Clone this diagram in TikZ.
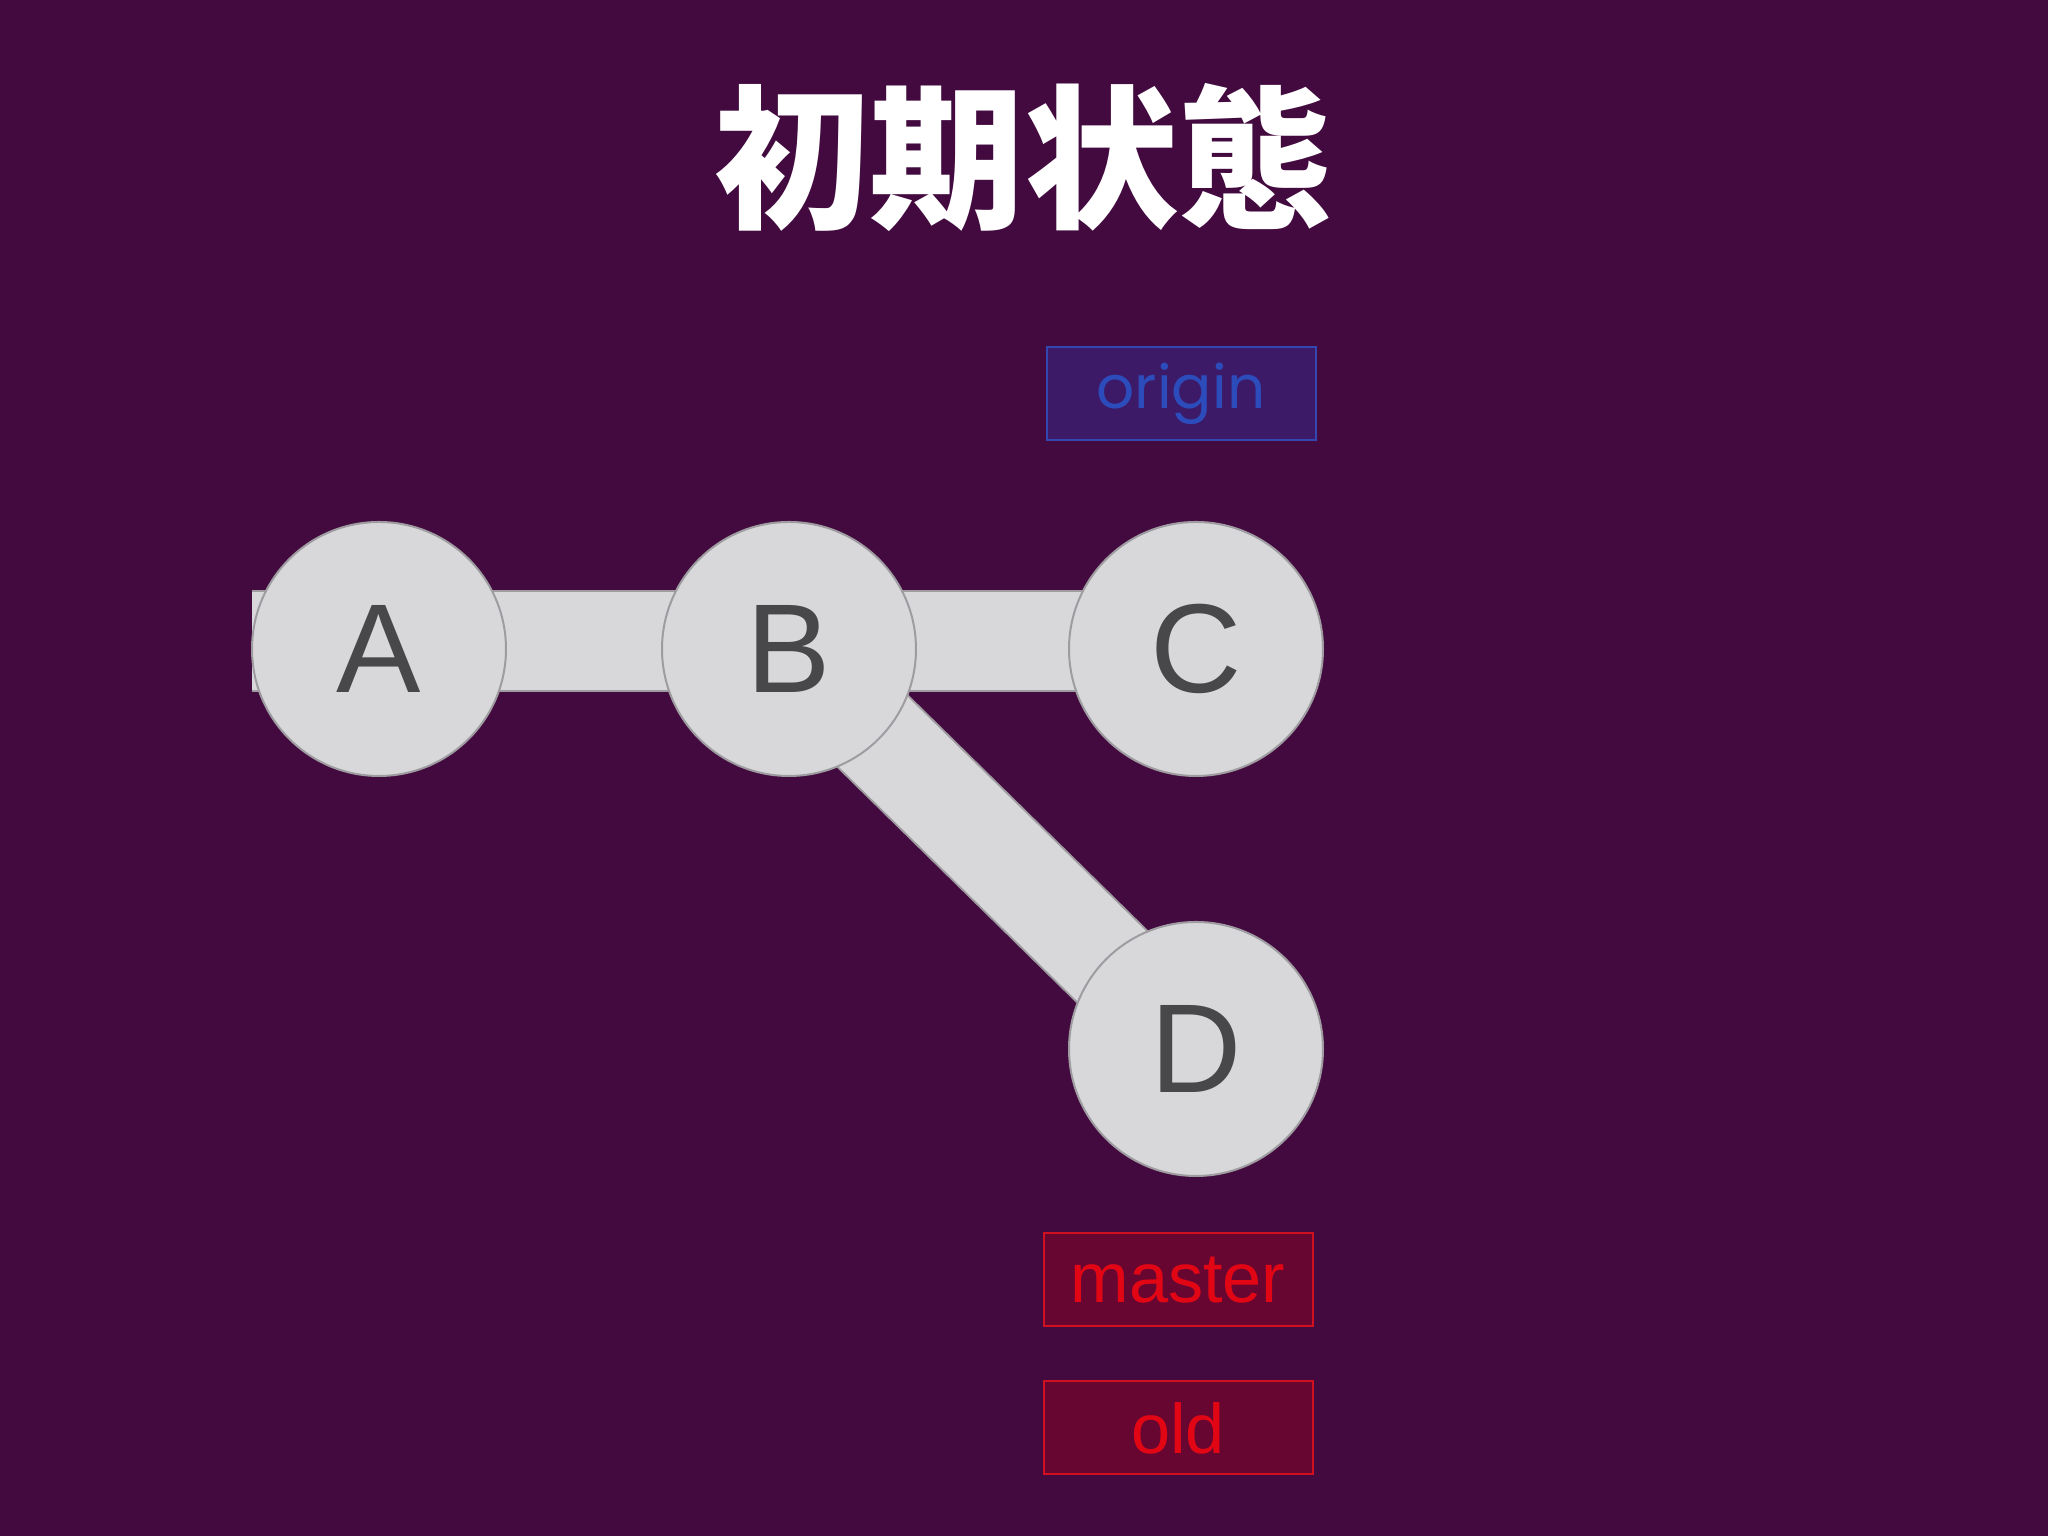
\documentclass[tikz,border=0pt]{standalone}
\usepackage{fontspec}
\setmainfont{Liberation Sans}
\newfontfamily\cjk{Noto Sans CJK JP}
\newfontfamily\geo{Poppins}
\usepackage{tikz}
\usepackage{xcolor}
\definecolor{bgpurple}{RGB}{66,10,62}
\definecolor{commitfill}{RGB}{216,215,218}
\definecolor{commitline}{RGB}{158,156,160}
\definecolor{committext}{RGB}{72,72,74}
\definecolor{originfill}{RGB}{60,26,104}
\definecolor{originline}{RGB}{52,70,176}
\definecolor{origintext}{RGB}{44,76,188}
\definecolor{branchfill}{RGB}{104,6,50}
\definecolor{branchline}{RGB}{208,16,32}
\definecolor{branchtext}{RGB}{226,6,20}

\begin{document}
\begin{tikzpicture}[
  commit/.style={circle,fill=commitfill,draw=commitline,line width=0.02cm,
    minimum size=2.54cm,inner sep=0pt,text=committext,font=\fontsize{36}{36}\selectfont},
  bar/.style={draw=commitline,line width=0.02cm,double=commitfill,double distance=0.98cm},
  remote/.style={rectangle,fill=originfill,draw=originline,line width=0.02cm,
    minimum width=2.69cm,minimum height=0.93cm,inner sep=0pt,text=origintext,
    font=\geo\fontsize{17}{17}\selectfont},
  branch/.style={rectangle,fill=branchfill,draw=branchline,line width=0.02cm,
    minimum width=2.69cm,minimum height=0.93cm,inner sep=0pt,text=branchtext,
    font=\fontsize{20}{20}\selectfont}]
\fill[bgpurple] (0,0) rectangle (20.48,15.36);
\useasboundingbox (0,0) rectangle (20.48,15.36);
\node (title) at (10.24,13.78) {\cjk\bfseries\fontsize{44}{44}\selectfont\textcolor{white}{初期状態}};
\coordinate (start) at (2.52,8.95);
\coordinate (cend) at (11.96,8.95);
\coordinate (bpos) at (7.89,8.87);
\coordinate (cpos) at (11.96,8.87);
\coordinate (dpos) at (11.96,4.87);
\draw[bar] (bpos) -- (dpos);
\draw[bar] (start) -- (cend);
\node[commit] (A) at (3.79,8.87) {A};
\node[commit] (B) at (bpos) {B};
\node[commit] (C) at (cpos) {C};
\node[commit] (D) at (dpos) {D};
\node[remote] (origin) at (11.81,11.42) {origin};
\node[branch] (master) at (11.78,2.56) {master};
\node[branch] (old) at (11.78,1.08) {old};
\end{tikzpicture}
\end{document}
